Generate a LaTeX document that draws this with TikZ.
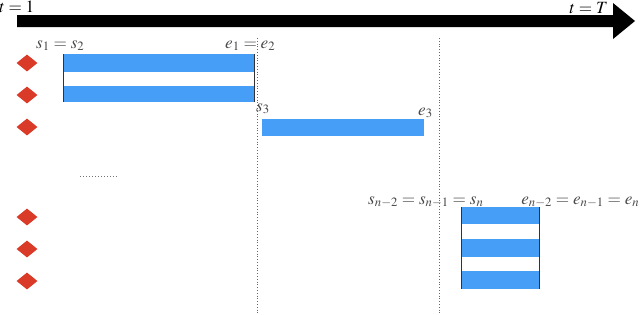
\documentclass[tikz,border=0pt]{standalone}
\usepackage{mathptmx}
\usetikzlibrary{shapes.geometric}
\definecolor{barblue}{HTML}{479EF6}
\definecolor{dred}{HTML}{DA3A28}
\definecolor{lblgray}{HTML}{4A4A4A}
\begin{document}
\begin{tikzpicture}[x=1pt,y=-1pt,
  mark diamond/.style={diamond,fill=dred,inner sep=0pt,minimum width=21pt,minimum height=17pt},
  lbl/.style={text=lblgray,inner sep=0pt,font=\fontsize{17.2}{20}\selectfont},
  stripe/.style={fill=barblue},
  edge line/.style={draw=black!80,line width=0.9pt},
  sep line/.style={draw=black!60,dotted,line width=0.8pt}]
\useasboundingbox (0,0) rectangle (640,314);
% time arrow
\fill[black] (17,15) -- (613,15) -- (613,3) -- (635,21) -- (613,39) -- (613,27) -- (17,27) -- cycle;
\node[lbl,text=black,anchor=base west] (t1) at (-1,12.5) {$t = 1$};
\node[lbl,text=black,anchor=base east] (tT) at (608,13.5) {$t = T$};
% separator lines
\coordinate (d1t) at (257,38); \coordinate (d1b) at (257,314);
\coordinate (d2t) at (439,38); \coordinate (d2b) at (439,314);
\draw[sep line] (d1t) -- (d1b);
\draw[sep line] (d2t) -- (d2b);
% diamonds
\node[mark diamond] (m1) at (27,63) {};
\node[mark diamond] (m2) at (27,95) {};
\node[mark diamond] (m3) at (27,127) {};
\node[mark diamond] (m4) at (27,217) {};
\node[mark diamond] (m5) at (27,249) {};
\node[mark diamond] (m6) at (27,281) {};
% ellipsis
\coordinate (el1) at (80,176); \coordinate (el2) at (118,176);
\draw[black!55,dotted,line width=1pt] (el1) -- (el2);
% box 1
\fill[stripe] (63,54) rectangle (254,72);
\fill[stripe] (63,86) rectangle (254,102);
\coordinate (b1tl) at (63,54); \coordinate (b1bl) at (63,102);
\coordinate (b1tr) at (254,54); \coordinate (b1br) at (254,102);
\draw[edge line] (b1tl) -- (b1bl);
\draw[edge line] (b1tr) -- (b1br);
\node[lbl,anchor=base west] (s12) at (36,48) {$s_1 = s_2$};
\node[lbl,anchor=base west] (e12) at (225,48) {$e_1 = e_2$};
% box 2
\fill[stripe] (262,119) rectangle (424,136);
\node[lbl,anchor=base west] (s3) at (256,111) {$s_3$};
\node[lbl,anchor=base west] (e3) at (418,115) {$e_3$};
% box 3
\fill[stripe] (461,207) rectangle (539,224);
\fill[stripe] (461,239) rectangle (539,257);
\fill[stripe] (461,271) rectangle (539,289);
\coordinate (b3tl) at (461,207); \coordinate (b3bl) at (461,289);
\coordinate (b3tr) at (539,207); \coordinate (b3br) at (539,289);
\draw[edge line] (b3tl) -- (b3bl);
\draw[edge line] (b3tr) -- (b3br);
\node[lbl,anchor=base west] (sn) at (368,204) {$s_{n-2} = s_{n-1} = s_n$};
\node[lbl,anchor=base east] (en) at (639.5,204) {$e_{n-2} = e_{n-1} = e_n$};
\end{tikzpicture}
\end{document}
